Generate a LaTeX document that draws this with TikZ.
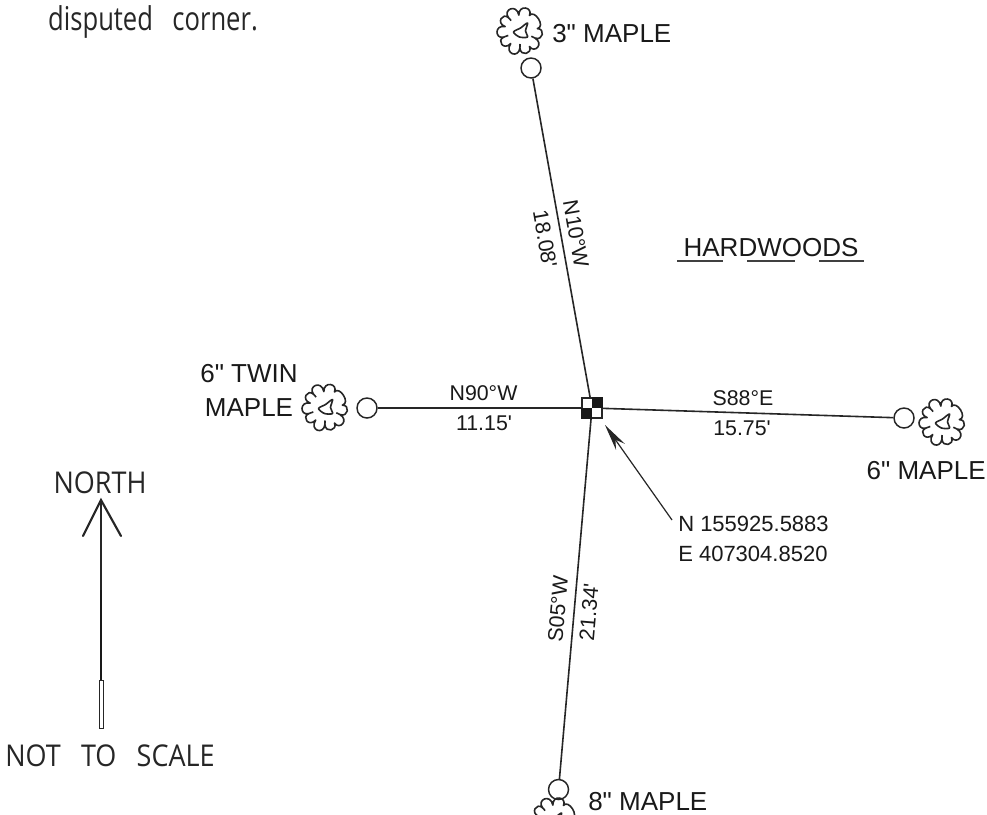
\documentclass[tikz,border=0pt]{standalone}
\usepackage{fontspec}
\setmainfont{Liberation Sans}
\newfontfamily\cadfont{Liberation Sans}
\newfontfamily\handfont{Open Sans}
\usetikzlibrary{arrows.meta}
\tikzset{
  x=0.75pt,y=-0.75pt,
  cad/.style={line width=1.2pt,draw=black!85},
  station/.style={circle,draw=black!85,line width=1.1pt,minimum size=15pt,inner sep=0pt,fill=white},
  label/.style={font=\fontsize{19.5pt}{19.5pt}\selectfont\cadfont,text=black!90,inner sep=0pt},
  sublabel/.style={font=\fontsize{16pt}{17pt}\selectfont\cadfont,text=black!90,inner sep=0pt},
  coordlabel/.style={font=\fontsize{16.5pt}{19.5pt}\selectfont\cadfont,text=black!90,inner sep=0pt},
  hand/.style={font=\fontsize{22.5pt}{22pt}\selectfont\handfont,text=black!85,inner sep=0pt,xscale=0.9},
  handtall/.style={font=\fontsize{24.6pt}{26pt}\selectfont\handfont,text=black!85,inner sep=0pt,xscale=0.78},
  hub/.style={draw=black!85,line width=1.1pt,minimum size=15pt,inner sep=0pt,fill=white},
  rule/.style={line width=1.2pt,draw=black!75},
}
\newcommand{\maple}[1]{%
  \begin{scope}[shift={(#1)},line width=1.2pt,black!85,line join=round]
    \draw (-8:17)
      foreach \a/\b/\r/\s in {-8/26/25/16, 26/60/27/18, 60/92/26/17, 92/128/28/16, 128/160/26/18,
                              160/196/27/16, 196/228/26/18, 228/264/28/16, 264/300/27/18, 300/352/26/17}
      { .. controls (\a+2:\r) and (\b-2:\r) .. (\b:\s) } -- cycle;
    \draw (26:16) -- (26:12) (160:18) -- (160:13) (228:18) -- (228:14) (92:17) -- (92:13);
    \draw plot[smooth cycle,tension=0.5] coordinates {(-7,1)(0,-3)(7,-8)(5,0)(7,6)(-1,6)};
  \end{scope}}
\begin{document}
\begin{tikzpicture}
\useasboundingbox (0,0) rectangle (987,814);
\clip (0,0) rectangle (987,814);
\fill[white] (0,0) rectangle (987,814);
% stations
\coordinate (hubc) at (592,408);
\node[station] (top) at (531,68) {};
\node[station] (left) at (367,408) {};
\node[station] (right) at (904,418) {};
\node[station] (bottom) at (558.5,789.5) {};
\draw[cad] (hubc) -- (top);
\draw[cad] (hubc) -- (left);
\draw[cad] (hubc) -- (right);
\draw[cad] (hubc) -- (bottom);
% hub
\node[hub] (hub) at (hubc) {};
\fill[black!90] (hub.north) rectangle (hub.east);
\fill[black!90] (hub.west) rectangle (hub.south);
% trees
\maple{520.5,31}
\maple{325.5,407.5}
\maple{942.5,422}
\maple{554.5,821}
% labels
\node[label,anchor=west] (t1) at (552,34) {3" MAPLE};
\node[label,anchor=west] (t2) at (588,802) {8" MAPLE};
\node[label,anchor=east] (t3) at (986,471) {6" MAPLE};
\node[label,align=center] (t4) at (249,390) {6" TWIN\\[6pt]MAPLE};
\node[label] (hw) at (771,248) {HARDWOODS};
\draw[rule] (677,261) -- (723,261);
\draw[rule] (747,261) -- (795,261);
\draw[rule] (819,261) -- (864,261);
% bearing labels
\node[sublabel] (b1) at (483.5,393) {N90°W};
\node[sublabel] (b2) at (484,423) {11.15'};
\node[sublabel] (b3) at (743,398) {S88°E};
\node[sublabel] (b4) at (742,428) {15.75'};
\node[sublabel,rotate=-80] (b5) at (576,234) {N10°W};
\node[sublabel,rotate=-80] (b6) at (545,239) {18.08'};
\node[sublabel,rotate=85] (b7) at (558,609) {S05°W};
\node[sublabel,rotate=85] (b8) at (589,612) {21.34'};
% coordinates
\node[coordlabel,align=left,anchor=west] (coord) at (678,539) {N 155925.5883\\[3pt]E 407304.8520};
\coordinate (ctail) at (672,520);
\coordinate (ctip) at (605,425);
\draw[line width=0.9pt,black!85,-{Stealth[length=20pt,width=8pt]}] (ctail) -- (ctip);
% north arrow
\coordinate (ntip) at (101,500);
\coordinate (ntail) at (101,728);
\draw[line width=1.3pt,black!85] (ntail) -- (ntip);
\draw[line width=1.6pt,black!85,line cap=round] (83,536) -- (ntip) -- (121,536);
\fill[black!90] (99.8,590) rectangle (102.2,680);
\draw[line width=0.7pt,black!85,fill=white] (99,680) rectangle (103,728);
\node[hand] (north) at (100,483) {NORTH};
\node[hand] (nts) at (110,756) {NOT\hspace{0.75em}TO\hspace{0.75em}SCALE};
\node[handtall,anchor=base west] (disp) at (48,30) {disputed\hspace{0.5em} corner.};
\end{tikzpicture}
\end{document}
